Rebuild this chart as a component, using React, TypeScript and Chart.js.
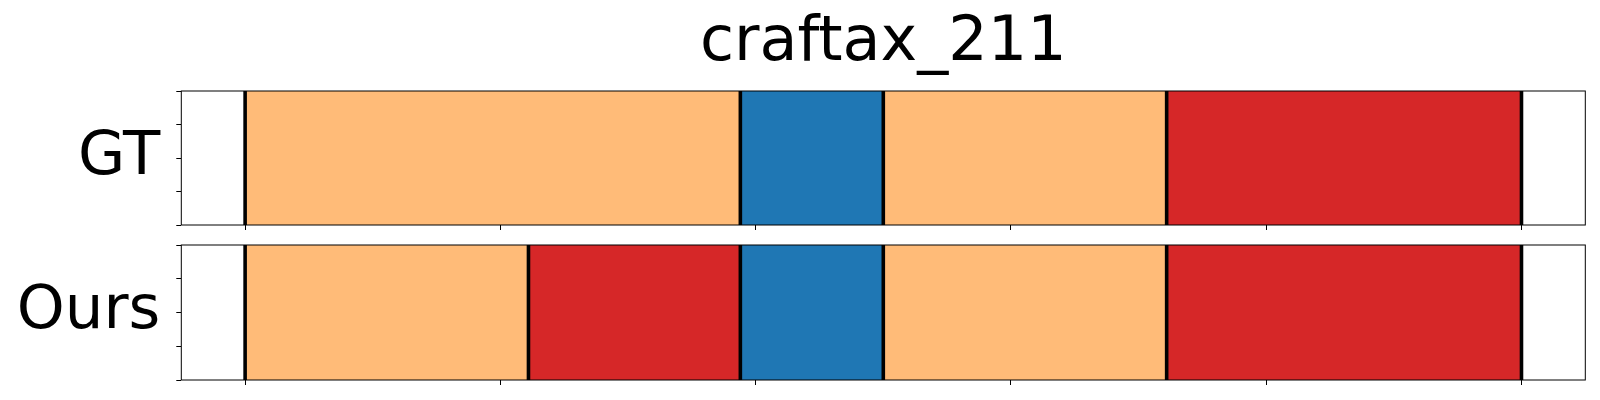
import React, { useEffect, useRef } from 'react';
import { Chart, registerables } from 'chart.js';

Chart.register(...registerables);
Chart.defaults.font.family = "'DejaVu Sans', sans-serif";

// ---- data ----
const TITLE = 'craftax_211';
const ROW_LABELS = ['GT', 'Ours'];
const CLASS_COLORS = ['#ffbb78', '#1f77b4', '#d62728'];
const GT_BOUNDS = [0, 97, 125, 180.5, 250];
const GT_CLASSES = [0, 1, 0, 2];
const OURS_BOUNDS = [0, 55.5, 97, 125, 180.5, 250];
const OURS_CLASSES = [0, 2, 1, 0, 2];
const X_TICKS = [0, 50, 100, 150, 200, 250];
const X_RANGE = [-12.5, 262.5];
const Y_TICKS = [0, 1, 2, 3, 4];
const Y_RANGE = [0, 4];
const ROW_Y = 2;

const framePlugin = {
  id: 'frame',
  afterDatasetsDraw(chart: any) {
    const { ctx, chartArea } = chart;
    const { left, top, right, bottom } = chartArea;
    ctx.save();
    ctx.strokeStyle = '#000';
    ctx.lineWidth = 1;
    ctx.strokeRect(left, top, right - left, bottom - top);
    ctx.restore();
  },
};

function makeConfig(
  label: string,
  bounds: number[],
  classes: number[],
  withTitle: boolean,
  padTop: number,
  padBottom: number,
  thickness: number
): any {
  const bars = {
    type: 'bar',
    data: bounds.slice(0, -1).map((s, i) => ({ x: [s, bounds[i + 1]], y: ROW_Y })),
    backgroundColor: classes.map((c) => CLASS_COLORS[c]),
    borderWidth: 0,
    barThickness: thickness,
    order: 2,
  };
  const lines = bounds.map((b) => ({
    type: 'line',
    data: [
      { x: b, y: Y_RANGE[0] },
      { x: b, y: Y_RANGE[1] },
    ],
    borderColor: '#000',
    borderWidth: 3.6,
    pointRadius: 0,
    order: 1,
  }));
  const tickGrid = {
    display: true,
    offset: false,
    drawOnChartArea: false,
    drawTicks: true,
    tickLength: 5,
    color: '#000',
    lineWidth: 1,
  };
  return {
    type: 'bar',
    data: { datasets: [bars, ...lines] },
    plugins: [framePlugin],
    options: {
      indexAxis: 'y',
      responsive: false,
      animation: false,
      devicePixelRatio: 1,
      layout: { padding: { left: 0, right: 14.7, top: padTop, bottom: padBottom } },
      plugins: {
        legend: { display: false },
        tooltip: { enabled: false },
        title: {
          display: withTitle,
          text: TITLE,
          fullSize: false,
          color: '#000',
          font: { size: 62, weight: 'normal' },
          padding: { top: 6.8, bottom: 9.8 },
        },
      },
      scales: {
        x: {
          type: 'linear',
          min: X_RANGE[0],
          max: X_RANGE[1],
          offset: false,
          afterBuildTicks: (s: any) => {
            s.ticks = X_TICKS.map((value) => ({ value }));
          },
          afterFit: (s: any) => {
            s.height = 15;
            s.paddingLeft = 0;
            s.paddingRight = 0;
          },
          ticks: { display: false },
          border: { display: false },
          grid: tickGrid,
        },
        y: {
          type: 'linear',
          min: Y_RANGE[0],
          max: Y_RANGE[1],
          offset: false,
          afterBuildTicks: (s: any) => {
            s.ticks = Y_TICKS.map((value) => ({ value }));
          },
          afterFit: (s: any) => {
            s.width = 181.3;
            s.paddingTop = 0;
            s.paddingBottom = 0;
          },
          ticks: {
            display: true,
            autoSkip: false,
            padding: 16,
            color: '#000',
            font: { size: 61 },
            callback: (v: number) => (v === ROW_Y ? label : ''),
          },
          border: { display: false },
          grid: tickGrid,
        },
      },
    },
  };
}

function Row(props: { config: any; top: number; height: number }) {
  const ref = useRef<HTMLCanvasElement>(null);
  useEffect(() => {
    const chart = new Chart(ref.current as HTMLCanvasElement, props.config);
    return () => chart.destroy();
  }, []);
  return (
    <canvas
      ref={ref}
      width={1600}
      height={props.height}
      style={{ position: 'absolute', left: 0, top: props.top, width: 1600, height: props.height }}
    />
  );
}

export default function App() {
  const gtConfig = makeConfig(ROW_LABELS[0], GT_BOUNDS, GT_CLASSES, true, 0, 0, 134);
  const oursConfig = makeConfig(ROW_LABELS[1], OURS_BOUNDS, OURS_CLASSES, false, 10, 5, 135);
  return (
    <div
      style={{
        position: 'fixed',
        left: 0,
        top: 0,
        width: 1600,
        height: 400,
        background: '#fff',
        overflow: 'hidden',
      }}
    >
      <Row config={gtConfig} top={0} height={240} />
      <Row config={oursConfig} top={235} height={165} />
    </div>
  );
}
